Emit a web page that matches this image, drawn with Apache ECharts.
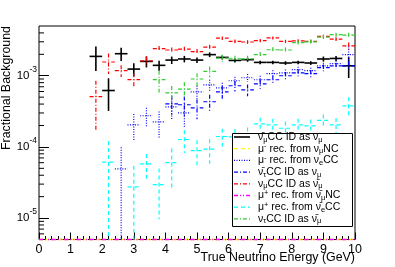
<!DOCTYPE html>
<html><head><meta charset="utf-8">
<script src="https://cdn.jsdelivr.net/npm/echarts@6/dist/echarts.min.js"></script>
<style>html,body{margin:0;padding:0;background:#fff}#c{width:395px;height:267px}</style>
</head><body><div id="c"></div>
<script>
// ---- data ----
const energy = [0.2,0.6,1.0,1.4,1.8,2.2,2.6,3.0,3.4,3.8,4.2,4.6,5.0,5.4,5.8,6.2,6.6,7.0,7.4,7.8,8.2,8.6,9.0,9.4,9.8];
const binWidth = 0.4;
const xTicks = [0,1,2,3,4,5,6,7,8,9,10];
const yMinorTicks = [6e-6,7e-6,8e-6,9e-6,2e-5,3e-5,4e-5,5e-5,6e-5,7e-5,8e-5,9e-5,2e-4,3e-4,4e-4,5e-4,6e-4,7e-4,8e-4,9e-4,2e-3,3e-3,4e-3];

const numubarCCasNumu = [null,null,null,null,1.87e-3,6.2e-4,2.04e-3,1.24e-3,1.59e-3,1.40e-3,1.66e-3,1.72e-3,1.66e-3,1.98e-3,1.81e-3,1.64e-3,1.68e-3,1.54e-3,1.54e-3,1.51e-3,1.54e-3,1.51e-3,1.72e-3,1.75e-3,1.38e-3];
const numubarCCasNumuErr = [null,null,null,null,7.0e-4,3.0e-4,4.3e-4,2.6e-4,2.8e-4,2.2e-4,2.0e-4,1.8e-4,1.5e-4,1.5e-4,1.2e-4,1.1e-4,1.1e-4,0.9e-4,0.9e-4,0.9e-4,0.9e-4,0.9e-4,1.4e-4,1.4e-4,4.5e-4];

const muMinusFromNumuNC = [0,0,0,0,0,0,0,0,0,0,0,0,0,0,0,0,0,0,0,0,0,0,0,0,0];
const muMinusFromNumuNCErr = [0,0,0,0,0,0,0,0,0,0,0,0,0,0,0,0,0,0,0,0,0,0,0,0,0];

const muMinusFromNueCC = [null,null,null,null,null,null,4.9e-5,2.04e-4,2.74e-4,2.25e-4,3.66e-4,3.01e-4,5.95e-4,7.46e-4,6.77e-4,8.5e-4,9.37e-4,8.78e-4,1.07e-3,1.10e-3,1.22e-3,1.18e-3,1.38e-3,1.48e-3,1.98e-3];
const muMinusFromNueCCErr = [null,null,null,null,null,null,5.0e-5,8.5e-5,8.0e-5,9.0e-5,1.2e-4,1.1e-4,1.3e-4,1.3e-4,1.2e-4,1.2e-4,1.2e-4,1.2e-4,1.2e-4,1.2e-4,1.2e-4,1.2e-4,1.4e-4,1.4e-4,6.0e-4];

const nutaubarCCasNumu = [null,null,null,null,null,null,null,null,null,null,4.03e-4,3.91e-4,3.54e-4,4.31e-4,5.95e-4,7.23e-4,6.35e-4,7.7e-4,8.78e-4,1.0e-3,1.1e-3,1.07e-3,1.30e-3,1.38e-3,1.38e-3];
const nutaubarCCasNumuErr = [null,null,null,null,null,null,null,null,null,null,1.2e-4,1.2e-4,1.1e-4,1.1e-4,1.2e-4,1.2e-4,1.2e-4,1.2e-4,1.2e-4,1.2e-4,1.2e-4,1.2e-4,1.4e-4,1.4e-4,2.0e-4];

const numuCCasNumubar = [null,null,null,null,5.1e-4,1.56e-3,1.18e-3,8.8e-4,1.62e-3,2.40e-3,2.30e-3,2.36e-3,2.18e-3,2.52e-3,3.37e-3,3.04e-3,2.98e-3,3.11e-3,3.40e-3,3.04e-3,3.09e-3,3.04e-3,3.58e-3,3.27e-3,2.62e-3];
const numuCCasNumubarErr = [null,null,null,null,3.4e-4,5.0e-4,2.2e-4,2.0e-4,2.5e-4,2.2e-4,2.0e-4,2.0e-4,2.0e-4,2.0e-4,2.0e-4,1.8e-4,1.8e-4,1.6e-4,1.6e-4,1.6e-4,1.6e-4,1.6e-4,2.0e-4,2.0e-4,3.0e-4];

const muPlusFromNumubarNC = [0,0,0,0,0,0,0,0,0,0,0,0,0,0,0,0,0,0,0,0,0,0,0,0,0];
const muPlusFromNumubarNCErr = [0,0,0,0,0,0,0,0,0,0,0,0,0,0,0,0,0,0,0,0,0,0,0,0,0];

const muPlusFromNuebarCC = [null,null,null,null,null,6.1e-5,null,2.74e-5,5.77e-5,2.96e-5,6.0e-5,1.27e-4,8.87e-5,9.29e-5,1.40e-4,1.38e-4,1.48e-4,2.11e-4,2.04e-4,1.83e-4,2.04e-4,1.98e-4,2.36e-4,2.04e-4,3.78e-4];
const muPlusFromNuebarCCErr = [null,null,null,null,null,6.0e-5,null,2.7e-5,2.2e-5,2.0e-5,3.5e-5,4.5e-5,3.5e-5,3.5e-5,4.0e-5,4.0e-5,4.0e-5,4.5e-5,4.5e-5,4.5e-5,4.5e-5,4.5e-5,5.0e-5,5.0e-5,1.2e-4];

const nutauCCasNumubar = [null,null,null,null,null,null,null,null,null,8.8e-4,5.76e-4,6.5e-4,9.0e-4,1.15e-3,1.77e-3,1.73e-3,1.73e-3,1.98e-3,2.32e-3,2.30e-3,2.92e-3,3.0e-3,3.48e-3,3.78e-3,3.72e-3];
const nutauCCasNumubarErr = [null,null,null,null,null,null,null,null,null,3.0e-4,1.4e-4,1.6e-4,1.8e-4,2.0e-4,2.0e-4,1.8e-4,1.8e-4,1.8e-4,2.0e-4,2.0e-4,2.2e-4,2.2e-4,2.5e-4,2.5e-4,3.0e-4];

const legendLabels = [
  '{t|\u03bd\u0304}{sub|\u03bc}{t|CC ID as \u03bd}{sub|\u03bc}',
  '{t|\u03bc}{sup|-}{t| rec. from \u03bd}{sub|\u03bc}{t|NC}',
  '{t|\u03bc}{sup|-}{t| rec. from \u03bd}{sub|e}{t|CC}',
  '{t|\u03bd\u0304}{sub|\u03c4}{t|CC ID as \u03bd}{sub|\u03bc}',
  '{t|\u03bd}{sub|\u03bc}{t|CC ID as \u03bd\u0304}{sub|\u03bc}',
  '{t|\u03bc}{sup|+}{t| rec. from \u03bd\u0304}{sub|\u03bc}{t|NC}',
  '{t|\u03bc}{sup|+}{t| rec. from \u03bd\u0304}{sub|e}{t|CC}',
  '{t|\u03bd}{sub|\u03c4}{t|CC ID as \u03bd\u0304}{sub|\u03bc}'
];

// ---- styles ----
const FONT = "'Liberation Sans', Arial, Helvetica, sans-serif";
const Y_MIN = 5e-6, Y_MAX = 5e-3;
const styles = [
  {color:'#000000', width:1.6, dash:null},
  {color:'#ffff00', width:1.3, dash:[4,3]},
  {color:'#0000ff', width:1.2, dash:[1,1.5]},
  {color:'#0000ff', width:1.2, dash:[4,2,1,2]},
  {color:'#ff0000', width:1.2, dash:[4,2,1,2]},
  {color:'#ff00ff', width:1.3, dash:[4,2,1,2,1,2]},
  {color:'#00ffff', width:1.2, dash:[4,3]},
  {color:'#33cc33', width:1.2, dash:[4,2,1,2]}
];
const seriesVals = [numubarCCasNumu, muMinusFromNumuNC, muMinusFromNueCC, nutaubarCCasNumu, numuCCasNumubar, muPlusFromNumubarNC, muPlusFromNuebarCC, nutauCCasNumubar];
const seriesErrs = [numubarCCasNumuErr, muMinusFromNumuNCErr, muMinusFromNueCCErr, nutaubarCCasNumuErr, numuCCasNumubarErr, muPlusFromNumubarNCErr, muPlusFromNuebarCCErr, nutauCCasNumubarErr];

function errSeries(idx) {
  const vals = seriesVals[idx], errs = seriesErrs[idx], st = styles[idx];
  const data = [];
  energy.forEach((x, i) => { if (vals[i] !== null) data.push([x, vals[i], errs[i]]); });
  return {
    type: 'custom', name: 's' + idx, data, z: 10 + idx, clip: false, silent: true,
    encode: {x: 0, y: 1},
    renderItem(params, api) {
      const x = api.value(0), v = api.value(1), e = api.value(2);
      const vc = Math.max(v, Y_MIN);
      const pL = api.coord([x - binWidth / 2, vc]), pR = api.coord([x + binWidth / 2, vc]);
      const style = {stroke: st.color, lineWidth: st.width, lineDash: st.dash, fill: null};
      const children = [{type: 'line', shape: {x1: pL[0], y1: pL[1], x2: pR[0], y2: pR[1]}, style}];
      if (e > 0) {
        const pT = api.coord([x, Math.min(v + e, Y_MAX)]);
        const pB = api.coord([x, Math.max(v - e, Y_MIN)]);
        children.push({type: 'line', shape: {x1: pT[0], y1: pT[1], x2: pB[0], y2: pB[1]}, style});
      }
      return {type: 'group', children};
    }
  };
}

const series = seriesVals.map((_, i) => errSeries(i));
series.push({
  type: 'custom', name: 'yminor', data: yMinorTicks.map(v => [0, v]), z: 5, silent: true, clip: false,
  encode: {x: 0, y: 1},
  renderItem(params, api) {
    const p = api.coord([0, api.value(1)]);
    return {type: 'line', shape: {x1: p[0], y1: p[1], x2: p[0] + 5, y2: p[1]}, style: {stroke: '#000', lineWidth: 1}};
  }
});

// legend graphic
const LX = 232, LY = 133, LW = 120, LH = 93, LSTEP = 11.7, LFIRST = 137;
const graphics = [
  {type: 'text', x: 355, y: 257.5, style: {text: 'True Neutrino Energy (GeV)', font: '12.4px ' + FONT, fill: '#000', align: 'right', verticalAlign: 'middle'}},
  {type: 'text', x: 6.5, y: 26, rotation: Math.PI / 2, style: {text: 'Fractional Background', font: '12.4px ' + FONT, fill: '#000', align: 'right', verticalAlign: 'middle'}},
  {type: 'rect', z: 100, shape: {x: LX + 0.5, y: LY + 0.5, width: LW, height: LH}, style: {fill: '#fff', stroke: '#000', lineWidth: 1}}
];
legendLabels.forEach((lab, i) => {
  const y = LFIRST + i * LSTEP;
  const st = styles[i];
  graphics.push({type: 'line', z: 101, shape: {x1: 234, y1: y, x2: 250, y2: y}, style: {stroke: st.color, lineWidth: st.width, lineDash: st.dash}});
  graphics.push({type: 'text', z: 101, x: 258, y: y, style: {
    text: lab, fill: '#000', align: 'left', verticalAlign: 'middle',
    rich: {
      t: {fontSize: 10.5, fontFamily: FONT, fill: '#000'},
      sub: {fontSize: 7.5, fontFamily: FONT, fill: '#000', padding: [5, 0, 0, 0]},
      sup: {fontSize: 7.5, fontFamily: FONT, fill: '#000', padding: [0, 0, 5, 0]}
    }
  }});
});

const chart = echarts.init(document.getElementById('c'), null, {renderer: 'canvas'});
chart.setOption({
  animation: false,
  backgroundColor: '#fff',
  grid: {left: 39, right: 40, top: 26, bottom: 27.5, show: true, borderColor: '#000', borderWidth: 1, backgroundColor: '#fff', containLabel: false},
  xAxis: {
    type: 'value', min: xTicks[0], max: xTicks[xTicks.length - 1], interval: 1,
    axisLine: {show: false},
    axisTick: {show: true, inside: true, length: 7, lineStyle: {color: '#000', width: 1}},
    minorTick: {show: true, splitNumber: 5, length: 3.5, lineStyle: {color: '#000', width: 1}},
    splitLine: {show: false}, minorSplitLine: {show: false},
    axisLabel: {color: '#000', fontSize: 12.5, fontFamily: FONT, margin: 4}
  },
  yAxis: {
    type: 'log', logBase: 10, min: Y_MIN, max: Y_MAX,
    axisLine: {show: false},
    axisTick: {show: true, inside: true, length: 10, lineStyle: {color: '#000', width: 1}},
    minorTick: {show: false},
    splitLine: {show: false}, minorSplitLine: {show: false},
    axisLabel: {
      showMinLabel: false, showMaxLabel: false, margin: 2,
      formatter: v => '{b|10}{s|' + Math.round(Math.log10(v)) + '}',
      rich: {
        b: {fontSize: 11.5, fontFamily: FONT, color: '#000'},
        s: {fontSize: 8.5, fontFamily: FONT, color: '#000', padding: [0, 0, 13, 0]}
      }
    }
  },
  series,
  graphic: graphics
});
</script>
</body></html>
